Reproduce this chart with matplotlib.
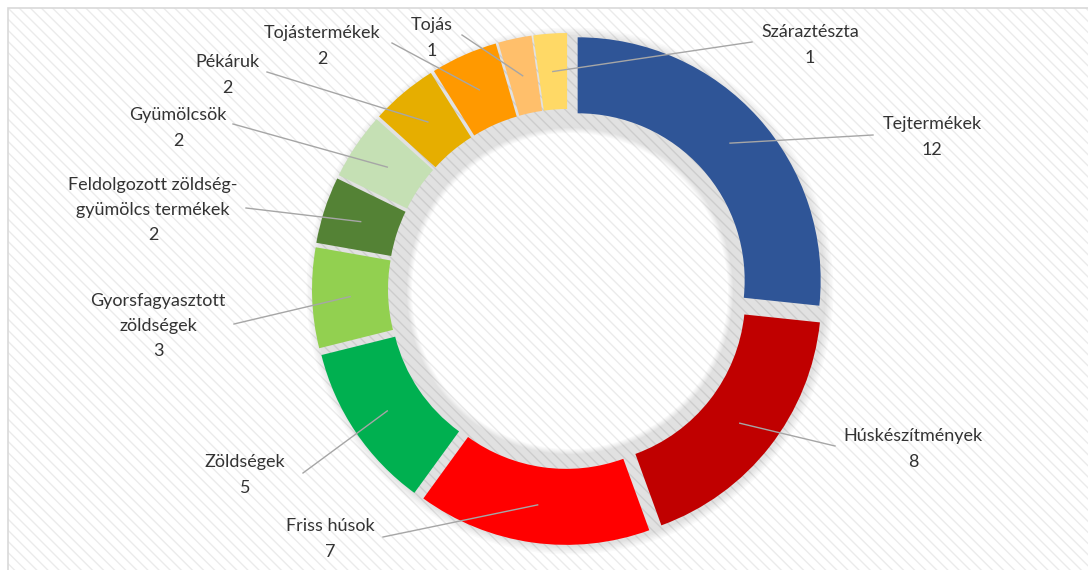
import math

import matplotlib.pyplot as plt
from matplotlib.patches import Rectangle, Wedge

# Donut data, clockwise from 12 o'clock
CATEGORIES = ["Tejtermékek", "Húskészítmények", "Friss húsok", "Zöldségek",
              "Gyorsfagyasztott\nzöldségek",
              "Feldolgozott zöldség-\ngyümölcs termékek",
              "Gyümölcsök", "Pékáruk", "Tojástermékek", "Tojás",
              "Száraztészta"]
VALUES = [12, 8, 7, 5, 3, 2, 2, 2, 2, 1, 1]
COLORS = ["#2F5597", "#C00000", "#FF0000", "#00B050", "#92D050", "#548235",
          "#C5E0B4", "#E6AE00", "#FF9900", "#FFBF6B", "#FFD966"]

# label layout (pixel coords of text centre and leader end near the text)
LABEL_XY = [(932, 137), (913, 449), (330, 539), (245, 475), (158, 326),
            (153, 210), (178, 128), (227, 75), (322, 46), (432, 38),
            (810, 45)]
LEADER_END = [(873, 135), (835, 446), (383, 537), (303, 473), (234, 324),
              (246, 208), (233, 124), (267, 72), (392, 43), (462, 35),
              (752, 42)]

W, H = 1088, 570
CX, CY = 568, 289
R_OUT, RING_W, EXPLODE = 243, 76, 13
TEXT_C = "#333333"
LINE_C = "#A6A6A6"


def py(y):
    return H - y


fig = plt.figure(figsize=(W / 100, H / 100), dpi=100)
ax = fig.add_axes([0, 0, 1, 1])

# patterned chart area with thin border
ax.add_patch(Rectangle((8, 0), W, py(8), facecolor="white",
                       edgecolor="#EBEBEB", hatch="\\\\\\", lw=0, zorder=0))
ax.add_patch(Rectangle((8, -2), W, py(8) + 2, facecolor="none",
                       edgecolor="#D9D9D9", lw=1.2, zorder=1))

# soft shadow behind the ring
for k in range(6):
    ax.add_patch(Wedge((CX + 2, py(CY) - 2), R_OUT + EXPLODE + k * 1.5,
                       0, 360, width=RING_W + EXPLODE + 4 + k * 2.5,
                       facecolor="black", alpha=0.02, lw=0, zorder=2))

wedges, _ = ax.pie(VALUES, colors=COLORS, startangle=90, counterclock=False,
                   radius=R_OUT, center=(CX, py(CY)),
                   explode=[EXPLODE] * len(VALUES),
                   wedgeprops=dict(width=RING_W, linewidth=0), frame=True)
for w in wedges:
    w.set_zorder(3)

for w, name, val, (tx, ty), (ex, ey) in zip(wedges, CATEGORIES, VALUES,
                                            LABEL_XY, LEADER_END):
    th = math.radians((w.theta1 + w.theta2) / 2)
    rm = R_OUT - RING_W / 2
    sx = w.center[0] + rm * math.cos(th)
    sy = w.center[1] + rm * math.sin(th)
    ax.plot([sx, ex], [sy, py(ey)], color=LINE_C, lw=1, zorder=4)
    ax.text(tx, py(ty), f"{name}\n{val}", ha="center", va="center",
            fontsize=13, color=TEXT_C, family="Lato", linespacing=1.7,
            zorder=5)

ax.set_xlim(0, W)
ax.set_ylim(0, H)
ax.set_aspect("equal")
ax.axis("off")

fig.savefig("out.png", dpi=100)
